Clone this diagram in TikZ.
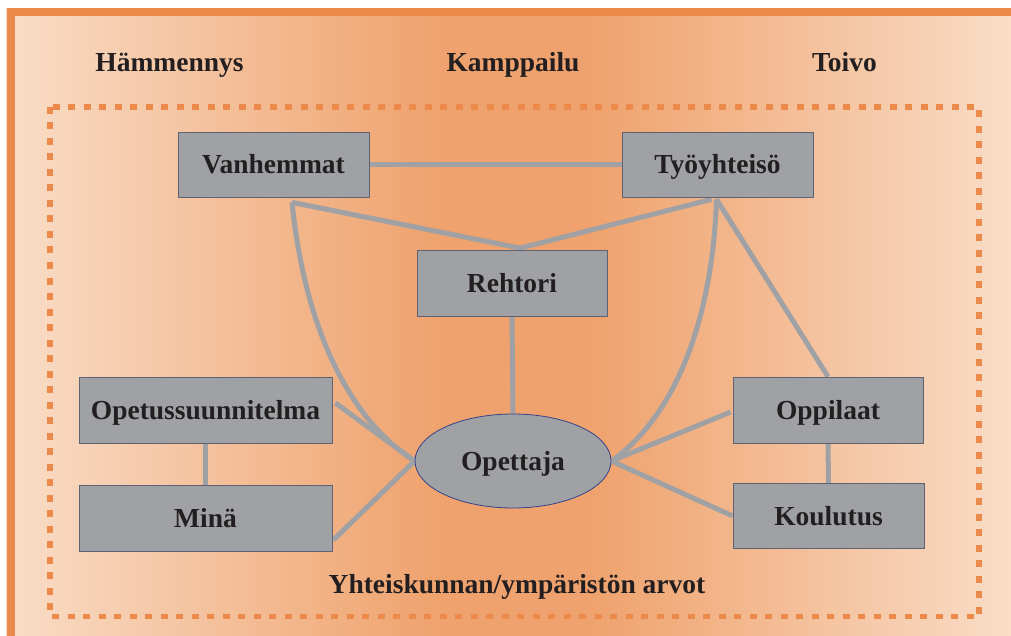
\documentclass[tikz,border=0pt]{standalone}
\usepackage{fontspec}
\setmainfont{Liberation Serif}
\usetikzlibrary{shapes.geometric,calc}
\definecolor{peach}{HTML}{F9DDC7}
\definecolor{apricot}{HTML}{EFA26D}
\definecolor{frameorange}{HTML}{EC8A4B}
\definecolor{boxgray}{HTML}{A0A1A5}
\definecolor{linkgray}{HTML}{A0A1A5}
\definecolor{inkdark}{HTML}{231F20}
\definecolor{boxedge}{HTML}{5E6272}
\definecolor{ovaledge}{HTML}{34438A}
\pgfdeclarelayer{back}
\pgfdeclarelayer{links}
\pgfsetlayers{back,links,main}
\begin{document}
\begin{tikzpicture}[x=1pt,y=-1pt,
  txt/.style={font=\bfseries\fontsize{27.5}{30}\selectfont, text=inkdark},
  caption/.style={txt, inner sep=0pt, anchor=base},
  actor/.style={txt, draw=boxedge, line width=0.7pt, fill=boxgray,
    inner sep=0pt, text height=18.5pt, text depth=0pt,
    minimum width=191pt, minimum height=65pt},
  wide/.style={minimum width=253pt, minimum height=66pt},
  hub/.style={txt, ellipse, draw=ovaledge, line width=0.8pt, fill=boxgray,
    inner sep=0pt, text height=18.5pt, text depth=0pt,
    minimum width=196pt, minimum height=94pt},
  link/.style={draw=linkgray, line width=5pt, line join=round}]
\useasboundingbox (0,0) rectangle (1011,636);

% background: light edges, deep apricot centre
\begin{pgfonlayer}{back}
\shade[left color=peach, right color=apricot] (6,8) rectangle (440,640);
\fill[apricot] (439,8) rectangle (591,640);
\shade[left color=apricot, right color=peach] (590,8) rectangle (1011,640);
% white margin above and left of the frame
\fill[white] (-2,-2) rectangle (1013,8);
\fill[white] (-2,-2) rectangle (6,638);
\draw[frameorange, line width=8pt] (10.5,12) rectangle (1015,640);
\draw[frameorange, line width=5.5pt, dash pattern=on 7pt off 8.5pt]
  (50,107) rectangle (979,616.5);
\end{pgfonlayer}

% column headings
\node[caption] (h1) at (169.5,72) {Hämmennys};
\node[caption] (h2) at (513,72) {Kamppailu};
\node[caption] (h3) at (844.5,72) {Toivo};
\node[caption] (arvot) at (517,593) {Yhteiskunnan/ympäristön arvot};

% actors
\node[actor] (van) at (273.5,164.5) {Vanhemmat};
\node[actor] (tyo) at (717.5,164.5) {Työyhteisö};
\node[actor, minimum width=190pt, minimum height=66pt] (reh) at (512,283.5) {Rehtori};
\node[actor, wide] (ops) at (205.5,410) {Opetussuunnitelma};
\node[actor, wide] (min) at (205.5,518) {Minä};
\node[actor, minimum width=190pt, minimum height=66pt] (opp) at (828,410) {Oppilaat};
\node[actor] (kou) at (828.5,516) {Koulutus};
\node[hub] (ope) at (513,461) {Opettaja};

% junction points under the top boxes and above Rehtori
\coordinate (vj) at ($(van.south)+(18.5,5)$);
\coordinate (tj) at ($(tyo.south)+(-1,2)$);
\coordinate (tk) at ($(tyo.south)+(-6,2)$);
\coordinate (rj) at ($(reh.north)+(8,-2)$);

\begin{pgfonlayer}{links}
\draw[link] (van.east) -- (tyo.west);
\draw[link] (vj) -- (rj) -- (tk);
\draw[link] (vj) .. controls (305,330) and (350,420) .. (ope.west);
\draw[link] (tj) .. controls (712,330) and (670,420) .. (ope.east);
\draw[link] (tj) -- (opp.north);
\draw[link] (reh.south) -- (ope.north);
\draw[link] ($(ops.east)+(3,-7)$) -- (ope.west);
\draw[link] ($(min.east)+(1,22)$) -- (ope.west);
\draw[link] (ope.east) -- ($(opp.west)+(-2,2)$);
\draw[link] (ope.east) -- (kou.west);
\draw[link] (ops.south) -- (min.north);
\draw[link] (opp.south) -- (kou.north);
\end{pgfonlayer}
\end{tikzpicture}
\end{document}
